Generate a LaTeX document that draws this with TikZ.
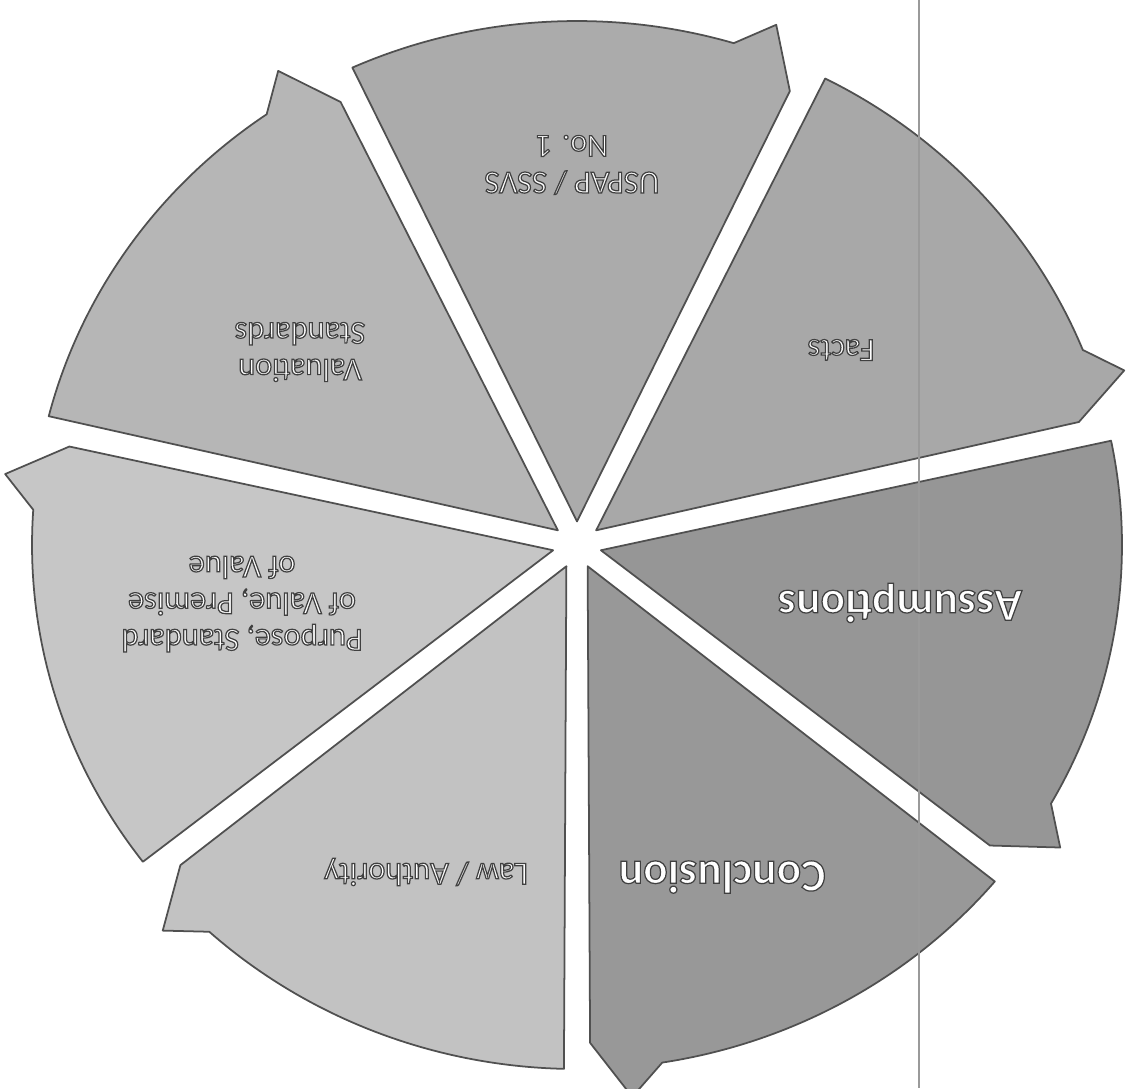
\documentclass[tikz,border=0pt]{standalone}
\usepackage{fontspec}
\setmainfont{Carlito}
\usetikzlibrary{calc}
\definecolor{cUS}{HTML}{ABABAB}
\definecolor{cFa}{HTML}{A8A8A8}
\definecolor{cAs}{HTML}{969696}
\definecolor{cCo}{HTML}{989898}
\definecolor{cLa}{HTML}{C2C2C2}
\definecolor{cPu}{HTML}{C6C6C6}
\definecolor{cVa}{HTML}{B6B6B6}
\definecolor{segedge}{HTML}{505050}
\definecolor{scanline}{HTML}{9A9A9A}
\tikzset{
  seg/.style={draw=segedge, line width=0.5pt, line join=round},
  lbl/.style={text=white, align=center, rotate=180, inner sep=1pt,
              font=\fontsize{9.2}{10.4}\selectfont},
  biglbl/.style={lbl, font=\fontsize{13}{15}\bfseries\selectfont},
}
\newcommand\outl[1]{\special{pdf:literal direct 2 Tr 0.35 w 0.25 0.25 0.25 RG}#1\special{pdf:literal direct 0 Tr}}
\newcommand\wedgeseg[3]{%
  \pgfmathsetmacro\mA{(#1+#2)/2}%
  \pgfmathsetmacro\tA{#2+5.5}%
  \pgfmathsetmacro\bA{#2+9}%
  \pgfmathsetmacro\sA{#1-1.375}%
  \path[seg,fill=#3] (\mA:0.045) -- ($(#2:0.95)+(#2+90:0.024)$) -- (\tA:1.058)
     -- (\bA:1) arc[start angle=\bA, end angle=\sA, radius=1] -- cycle;
}
\begin{document}
\begin{tikzpicture}
\useasboundingbox (0,0) rectangle (11.35,-10.88);
\fill[white] (0,0) rectangle (11.35,-10.88);
\begin{scope}[shift={(5.77,-5.45)}, x=5.45cm, y=5.24cm]
  \wedgeseg{115.714}{64.286}{cUS}
  \wedgeseg{64.286}{12.857}{cFa}
  \wedgeseg{12.857}{-38.571}{cAs}
  \wedgeseg{-38.571}{-90}{cCo}
  \wedgeseg{-90}{-141.429}{cLa}
  \wedgeseg{-141.429}{-192.857}{cPu}
  \wedgeseg{-192.857}{-244.286}{cVa}
\end{scope}
\draw[scanline, line width=0.4pt] (9.19,0) -- (9.19,-10.88);
\node[lbl] (uspap) at (5.72,-1.65) {\outl{USPAP / SSVS}\\\outl{No. 1}};
\node[lbl] (facts) at (8.41,-3.50) {\outl{Facts}};
\node[lbl] (valstd) at (3.00,-3.52) {\outl{Valuation}\\\outl{Standards}};
\node[lbl] (purpose) at (2.42,-6.04) {\outl{Purpose, Standard}\\\outl{of Value, Premise}\\\outl{of Value}};
\node[biglbl] (assump) at (9.00,-6.03) {\outl{Assumptions}};
\node[biglbl] (concl) at (7.22,-8.77) {\outl{Conclusion}};
\node[lbl] (law) at (4.26,-8.72) {\outl{Law / Authority}};
\end{tikzpicture}
\end{document}
